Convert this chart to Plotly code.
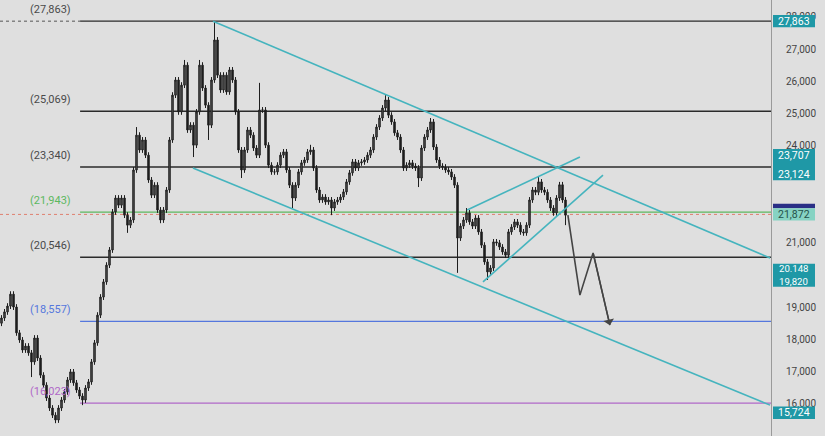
import plotly.graph_objects as go

# ---------------- data ----------------
closes = [
    18660, 18850, 19030, 19400, 19000, 18200, 17980, 17670, 17790, 17580,
    17300, 18040, 17420, 16890, 16580, 16180, 15870, 15650, 15500, 15870,
    16120, 16370, 16740, 16990, 16650, 16430, 16240, 16120, 16490, 16680,
    17300, 17890, 18750, 19310, 19780, 20300, 20770, 21950, 22380, 22160,
    22380, 21850, 21540, 21700, 23250, 24330, 23870, 24180, 23710, 22940,
    22470, 22780, 22010, 21700, 22010, 22630, 24180, 25570, 26040, 25050,
    25880, 26500, 24490, 24640, 24020, 25050, 26500, 25790, 25260, 24640,
    26040, 27280, 26190, 25730, 26190, 25670, 26350, 26040, 25050, 23870,
    23250, 23870, 24490, 24330, 23930, 23710, 25110, 25110, 24020, 23400,
    23190, 23190, 23400, 23710, 23810, 23250, 22780, 22380, 22780, 23190,
    23470, 23560, 23810, 23870, 23310, 22630, 22320, 22410, 22260, 22320,
    22070, 22260, 22320, 22410, 22570, 22880, 23160, 23500, 23310, 23470,
    23500, 23560, 23710, 23870, 24270, 24580, 24860, 25170, 25420, 24950,
    24740, 24400, 24270, 23870, 23310, 23400, 23470, 23370, 23310, 23000,
    23930, 24270, 24490, 24740, 23960, 23560, 23370, 23340, 23250, 23190,
    23030, 22780, 21140, 21510, 21700, 21920, 21640, 21510, 21760, 21330,
    20920, 20400, 20090, 20210, 21020, 20990, 20860, 20710, 20610, 21330,
    21480, 21640, 21540, 21330, 21300, 21540, 22320, 22630, 22560, 22880,
    22630, 22560, 22320, 22070, 21920, 22380, 22790, 22320, 21850,
]
first_open = 18500
high_spikes = {45: 24580, 58: 26130, 61: 26660, 66: 26660, 71: 27863, 86: 25950,
               103: 24030, 128: 25570, 143: 24860, 155: 22070, 179: 23030}
low_spikes = {10: 16830, 18: 15400, 27: 15960, 42: 21300, 53: 21600, 64: 23650,
              69: 24180, 80: 23000, 97: 22070, 110: 21850, 139: 22720, 152: 20060,
              162: 19840, 188: 21540}
base_wick = 90

levels = [27863, 25069, 23340, 21943, 20546, 18557, 16023]
level_labels = ["(27,863)", "(25,069)", "(23,340)", "(21,943)", "(20,546)", "(18,557)", "(16,023)"]
level_colors = ["#2b2b2b", "#2b2b2b", "#2b2b2b", "#5cb860", "#2b2b2b", "#5577dd", "#b068c8"]
label_colors = ["#4a4a4a", "#4a4a4a", "#4a4a4a", "#5cb860", "#4a4a4a", "#5577dd", "#b068c8"]
current_price = 21872

channel_upper_x = [71, 256.7]
channel_upper_y = [27863, 20520]
channel_lower_x = [64.3, 256.7]
channel_lower_y = [23310, 15960]
wedge_upper_x = [155.7, 193.3]
wedge_upper_y = [22010, 23650]
wedge_lower_x = [161, 201]
wedge_lower_y = [19780, 23090]
proj_x = [189.3, 193.3, 197.7, 203.3]
proj_y = [21850, 19370, 20680, 18440]

price_tags = [27863, 23707, 23124, 20148, 19820, 15724]
price_tag_text = ["27,863", "23,707", "23,124", "20.148", "19,820", "15,724"]
price_tag_shift = [0, 0, 0, 1.3, -1.3, 0]

y_ticks = [15000, 16000, 17000, 18000, 19000, 21000, 24000, 25000, 26000, 27000, 28000]
y_tick_text = ["15,000", "16,000", "17,000", "18,000", "19,000", "21,000",
               "24,000", "25,000", "26,000", "27,000", "28,000"]

X_RANGE = [0, 257]
Y_RANGE = [15003, 28519]
LEVEL_START = 26.7

# ---------------- build OHLC ----------------
n = len(closes)
xs = [i + 0.5 for i in range(n)]
opens = [first_open] + closes[:-1]
highs = []
lows = []
for i in range(n):
    h = max(opens[i], closes[i]) + base_wick
    l = min(opens[i], closes[i]) - base_wick
    if i in high_spikes:
        h = high_spikes[i]
    if i in low_spikes:
        l = low_spikes[i]
    highs.append(h)
    lows.append(l)

BG = "#dfdfdf"
CYAN = "#45b4be"
TEAL = "#1f98a6"

fig = go.Figure()

fig.add_trace(go.Candlestick(
    x=xs, open=opens, high=highs, low=lows, close=closes,
    increasing=dict(line=dict(color="#1e1e1e", width=1), fillcolor="#5a5a5a"),
    decreasing=dict(line=dict(color="#1e1e1e", width=1), fillcolor="#1e1e1e"),
    whiskerwidth=0, showlegend=False, hoverinfo="skip",
))

for lx, ly in [(channel_upper_x, channel_upper_y), (channel_lower_x, channel_lower_y),
               (wedge_upper_x, wedge_upper_y), (wedge_lower_x, wedge_lower_y)]:
    fig.add_trace(go.Scatter(x=lx, y=ly, mode="lines", line=dict(color=CYAN, width=1.6),
                             showlegend=False, hoverinfo="skip"))

fig.add_trace(go.Scatter(x=proj_x, y=proj_y, mode="lines", line=dict(color="#444444", width=1.6),
                         showlegend=False, hoverinfo="skip"))
fig.add_annotation(x=proj_x[-1], y=proj_y[-1], ax=proj_x[-2], ay=proj_y[-2],
                   xref="x", yref="y", axref="x", ayref="y", text="",
                   showarrow=True, arrowhead=1, arrowsize=1.3, arrowwidth=1.4, arrowcolor="#444444")

# horizontal levels
shapes = []
for lv, col in zip(levels, level_colors):
    shapes.append(dict(type="line", xref="x", yref="y", x0=LEVEL_START, x1=X_RANGE[1], y0=lv, y1=lv,
                       line=dict(color=col, width=1.4), layer="below"))
shapes.append(dict(type="line", xref="x", yref="y", x0=X_RANGE[0], x1=LEVEL_START, y0=levels[0], y1=levels[0],
                   line=dict(color="#555555", width=1, dash="dot"), layer="below"))
shapes.append(dict(type="line", xref="x", yref="y", x0=X_RANGE[0], x1=X_RANGE[1], y0=current_price, y1=current_price,
                   line=dict(color="#e08070", width=1, dash="dot"), layer="below"))

# price tag boxes on right axis
px_per_unit = 436 / (Y_RANGE[1] - Y_RANGE[0])
half = 6.2 / px_per_unit
bx0, bx1 = 773 / 771, 815 / 771
for v in price_tags:
    shapes.append(dict(type="rect", xref="paper", yref="y", x0=bx0, x1=bx1, y0=v - half, y1=v + half,
                       fillcolor=TEAL, line=dict(width=0)))
shapes.append(dict(type="rect", xref="paper", yref="y", x0=bx0, x1=bx1, y0=price_tags[2], y1=price_tags[1],
                   fillcolor=TEAL, line=dict(width=0)))
shapes.append(dict(type="rect", xref="paper", yref="y", x0=bx0, x1=bx1, y0=price_tags[4] - 1.5 / px_per_unit,
                   y1=price_tags[3] + 1.5 / px_per_unit, fillcolor=TEAL, line=dict(width=0)))
shapes.append(dict(type="rect", xref="paper", yref="y", x0=bx0, x1=bx1,
                   y0=current_price + half, y1=current_price + half + 4.5 / px_per_unit,
                   fillcolor="#2a2f86", line=dict(width=0)))
shapes.append(dict(type="rect", xref="paper", yref="y", x0=bx0, x1=bx1, y0=current_price - half,
                   y1=current_price + half, fillcolor="#86d3c3", line=dict(width=0)))

for v, t, s in zip(price_tags, price_tag_text, price_tag_shift):
    fig.add_annotation(xref="paper", yref="y", x=(bx0 + bx1) / 2, y=v, yshift=s, text=t, showarrow=False,
                       font=dict(family="Roboto", size=10.5 if s == 0 else 9.6, color="white"),
                       xanchor="center", yanchor="middle")
fig.add_annotation(xref="paper", yref="y", x=(bx0 + bx1) / 2, y=current_price, text="21,872", showarrow=False,
                   font=dict(family="Roboto", size=10.5, color="#24514a"), xanchor="center", yanchor="middle")

# left labels
for lv, t, c in zip(levels, level_labels, label_colors):
    fig.add_annotation(xref="paper", yref="y", x=73 / 771, y=lv, yshift=12, text=t, showarrow=False,
                       xanchor="right", yanchor="middle", font=dict(family="Roboto", size=11, color=c))

fig.update_layout(
    width=825, height=436,
    margin=dict(l=0, r=54, t=0, b=0),
    paper_bgcolor=BG, plot_bgcolor=BG,
    shapes=shapes,
    showlegend=False,
    hovermode=False,
    xaxis=dict(range=X_RANGE, visible=False, rangeslider=dict(visible=False), fixedrange=True),
    yaxis=dict(range=Y_RANGE, side="right", tickvals=y_ticks, ticktext=y_tick_text,
               showgrid=False, zeroline=False, showline=True, linecolor="#9a9a9a", linewidth=1,
               ticks="", ticklabelstandoff=12, fixedrange=True,
               tickfont=dict(family="Roboto", size=10, color="#444444")),
)

fig.write_html("out.html",
               config={"displayModeBar": False, "staticPlot": True},
               post_script="document.body.style.margin='0';document.body.style.overflow='hidden';"
                           "document.body.style.background='#dfdfdf';")
